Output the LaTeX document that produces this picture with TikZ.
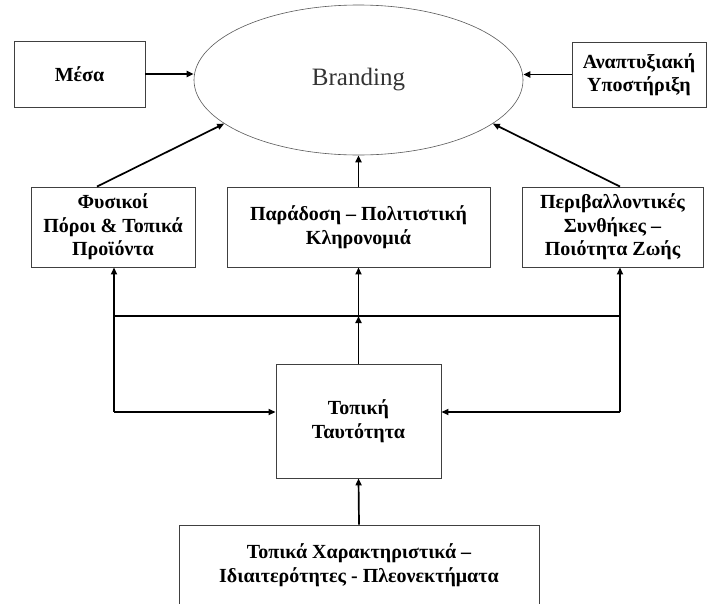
\documentclass[tikz,border=0pt]{standalone}
\usepackage{fontspec}
\setmainfont{Liberation Serif}
\usetikzlibrary{shapes.geometric,arrows.meta,calc}
\tikzset{
  box/.style={draw=black!75, line width=0.9pt, rectangle, align=center, inner sep=0pt,
    font=\fontsize{20}{23.5}\selectfont\bfseries},
  arr/.style={draw=black, line width=1.7pt, -{Triangle[length=7pt,width=6pt]}},
  ln/.style={draw=black, line width=1.7pt},
}
\begin{document}
\begin{tikzpicture}[x=1pt,y=-1pt]
\clip (0,0) rectangle (707,603);
\fill[white] (0,0) rectangle (707,603);
\node[box, minimum width=131pt, minimum height=66pt] (meso) at (79.5,74) {Μέσα};
\node[draw=black!65, line width=0.6pt, ellipse, minimum width=329pt, minimum height=150pt,
      font=\fontsize{25}{28}\selectfont, text=black!80] (brand) at (358.5,80) {Branding};
\node[box, minimum width=134pt, minimum height=65pt] (anapt) at (639,74.5) {Αναπτυξιακή\\Υποστήριξη};
\node[box, minimum width=164pt, minimum height=80pt] (fys) at (113,227) {Φυσικοί\\Πόροι \& Τοπικά\\Προϊόντα};
\node[box, minimum width=263pt, minimum height=80pt] (parad) at (358.5,227) {Παράδοση – Πολιτιστική\\Κληρονομιά};
\node[box, minimum width=181pt, minimum height=80pt] (periv) at (612.5,227) {Περιβαλλοντικές\\Συνθήκες –\\Ποιότητα Ζωής};
\node[box, minimum width=165pt, minimum height=114pt] (topiki) at (358.5,421) {Τοπική\\Ταυτότητα};
\node[box, minimum width=360pt, minimum height=80pt] (topxar) at (359,565) {Τοπικά Χαρακτηριστικά –\\Ιδιαιτερότητες - Πλεονεκτήματα};
\coordinate (hl) at (114,316);
\coordinate (hc) at (358.5,316);
\coordinate (hr) at (620,316);
\coordinate (L) at (114,412);
\coordinate (R) at (620,412);
\draw[arr] (meso.east) -- (brand.west |- meso.east);
\draw[arr] (anapt.west) -- (brand.east |- anapt.west);
\draw[arr] ($(fys.north)+(-16,0)$) -- (brand.198);
\draw[arr] ($(periv.north)+(7.5,0)$) -- (brand.342);
\draw[arr] (parad.north) -- (brand.south);
\draw[ln] (hl) -- (hr);
\draw[arr] (topiki.north) -- (hc);
\draw[arr] (hc) -- (parad.south);
\draw[arr] (L) -- (L |- fys.south);
\draw[arr] (L) -- (topiki.west |- L);
\draw[arr] (R) -- (R |- periv.south);
\draw[arr] (R) -- (topiki.east |- R);
\draw[arr] (topxar.north) -- (topiki.south);
\end{tikzpicture}
\end{document}
